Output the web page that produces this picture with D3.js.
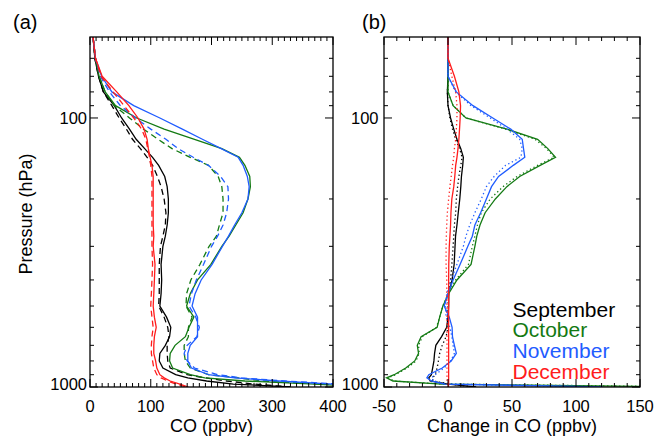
<!DOCTYPE html>
<html>
<head>
<meta charset="utf-8">
<script src="https://cdn.jsdelivr.net/npm/d3@7"></script>
<style>
  body { margin: 0; background: #fff; }
  svg { display: block; }
</style>
</head>
<body>
<svg id="chart" width="667" height="438"></svg>
<script>
// pressure levels (hPa), shared by every profile
var levels = [50, 60, 70, 80, 90, 100, 110, 120, 130, 140, 150, 165, 180, 200, 225, 250, 275, 300, 350, 400,
  450, 500, 550, 600, 650, 700, 750, 800, 850, 900, 925, 950, 975, 1000]

// (a) CO profiles (ppbv), solid and dashed
var coSep = [5, 8, 14, 22, 40, 52, 65, 76, 90, 103, 113, 123, 127, 129, 129, 127, 124, 120, 117, 118,
  117, 115, 126, 133, 131, 124, 115, 114, 120, 141, 161, 192, 236, 330]
var coSepDash = [5, 8, 14, 22, 36, 48, 60, 70, 83, 94, 103, 111, 117, 122, 125, 124, 120, 116, 114, 114,
  114, 113, 122, 128, 130, 127, 127, 128, 132, 160, 190, 225, 270, 330]
var coOct = [5, 9, 15, 25, 42, 77, 122, 172, 217, 246, 255, 263, 264, 260, 252, 240, 229, 217, 199, 177,
  165, 159, 171, 163, 157, 140, 132, 131, 136, 165, 189, 255, 370, 460]
var coOctDash = [5, 9, 15, 25, 40, 65, 88, 112, 135, 165, 195, 211, 217, 219, 219, 213, 208, 196, 181, 166,
  159, 158, 168, 162, 162, 155, 155, 157, 165, 195, 244, 285, 380, 460]
var coNov = [5, 9, 19, 36, 72, 115, 152, 185, 216, 244, 252, 259, 262, 260, 250, 238, 228, 218, 201, 183,
  173, 168, 177, 177, 177, 165, 161, 161, 167, 195, 238, 310, 400, 480]
var coNovDash = [5, 9, 17, 32, 50, 75, 100, 125, 145, 170, 195, 215, 227, 228, 225, 219, 210, 200, 187, 175,
  167, 163, 174, 180, 176, 160, 155, 160, 172, 210, 250, 320, 410, 480]
var coDec = [5, 9, 20, 44, 64, 79, 89, 94, 96, 99, 102, 104, 104, 104, 104, 104, 105, 104, 107, 106,
  105, 104, 106, 109, 106, 105, 105, 108, 110, 115, 122, 132, 148, 162]
var coDecDash = [5, 9, 18, 38, 56, 72, 85, 92, 95, 98, 100, 102, 102, 102, 102, 102, 102, 102, 103, 102,
  101, 100, 102, 104, 102, 101, 101, 103, 105, 110, 117, 128, 142, 158]

// (b) change in CO (ppbv), solid and dotted
var dSep = [0, 0, 0, -0.5, 0, 2, 4.5, 7, 10, 12, 11.5, 10.5, 10, 9.2, 8, 7, 5.9, 5.5, 4.8, 3.2,
  0.6, 0.5, 0, -1, -5, -9.5, -10.5, -11, -12, -13, -15, -14, 0, 22]
var dSepDot = [0, 0, 0, -0.5, 0, 1.5, 3.5, 6, 9, 11, 10, 8.5, 7.5, 6.5, 6, 5, 4.5, 4, 3, 2,
  0.5, 0, 0, 0, -1.5, -4.5, -6.5, -7.5, -8.5, -10, -12, -12, 2, 20]
var dOct = [0, 0, 0, 0, 4, 14, 46, 70, 78, 84, 72, 56, 46, 37, 29, 25, 22.5, 21, 18, 7,
  0.5, -4, -6.5, -8.5, -21, -24, -23, -26, -33, -42, -48, -43, -5, 200]
var dOctDot = [0, 0, 0, 0, 4, 14, 45, 68, 77, 83, 70, 54, 43, 33, 26, 23, 21, 19, 16, 6,
  0, -4, -6.5, -9, -20, -23, -22.5, -25, -32, -41, -47, -42, -4, 200]
var dNov = [0, 0, 0, 6.5, 19.5, 35, 49, 58, 59, 60, 51, 39.5, 34, 30, 25.5, 21, 19, 15.5, 9.5, 4,
  0, -3, 1, 3.2, 3.5, 5, 6.5, 2.5, -4.5, -15, -16.5, -13, -3, 121]
var dNovDot = [0, 0, 0, 6, 18, 33, 46, 56, 58, 57, 45, 36, 30, 26, 21, 17, 14, 12, 7, 2.5,
  -1, -2, -1.5, 1.5, 3, 4, 5, 2, -3, -10, -13, -11, -1, 121]
var dDec = [0, 0, 5, 8.5, 9.8, 9.5, 9, 8.5, 7.8, 7, 6, 5.3, 4.5, 3, 2.3, 2, 1.5, 1, 0.6, 0.5,
  0.5, 0.5, 0.5, 0.5, 0.5, 0.5, 0.5, 0.5, 0.5, 0.5, 0.5, 0.5, 0.5, 0.3]
var dDecDot = [0, 0, 3, 6, 7, 7, 6.5, 6, 5, 4.5, 3.5, 2.5, 1.5, 0.5, -0.5, -1, -1.3, -1.5, -1.5, -1,
  -1, -0.8, -0.8, -0.8, -0.8, -0.8, -0.8, -0.8, -0.8, -0.8, -0.8, -0.8, -0.5, -0.5]

var months = ['September', 'October', 'November', 'December']
var colors = ['#000000', '#137a13', '#1f5cff', '#ff1c1c']

var xTicksA = [0, 100, 200, 300, 400]
var xTicksB = [-50, 0, 50, 100, 150]
var pMajor = [100, 1000]
var pMinor = [60, 70, 80, 90, 200, 300, 400, 500, 600, 700, 800, 900]

var font = 'Liberation Sans, Arial, Helvetica, sans-serif'
var svg = d3.select('#chart')
var defs = svg.append('defs')

var y = d3.scaleLog().domain([50, 1000]).range([37, 387])
var xa = d3.scaleLinear().domain([0, 400]).range([90, 333])
var xb = d3.scaleLinear().domain([-50, 150]).range([384, 640])

function panel(id, x, majors, solids, others, dash, yLabelX, tag, tagX, xTitle) {
  var x0 = x.range()[0], x1 = x.range()[1],
    y0 = y.range()[0], y1 = y.range()[1]

  defs.append('clipPath').attr('id', 'clip-' + id)
    .append('rect')
    .attr('x', x0).attr('y', y0)
    .attr('width', x1 - x0).attr('height', y1 - y0)

  var g = svg.append('g')
  var plot = g.append('g').attr('clip-path', 'url(#clip-' + id + ')')

  var line = d3.line()
    .x(function(d) { return x(d[1]) })
    .y(function(d) { return y(d[0]) })

  for (var i = 0; i < 4; i++) {
    plot.append('path')
      .attr('d', line(d3.zip(levels, others[i])))
      .attr('fill', 'none')
      .attr('stroke', colors[i])
      .attr('stroke-width', 1.3)
      .attr('stroke-dasharray', dash)
    plot.append('path')
      .attr('d', line(d3.zip(levels, solids[i])))
      .attr('fill', 'none')
      .attr('stroke', colors[i])
      .attr('stroke-width', 1.3)
  }

  // x ticks, minor every 10, inward on top and bottom
  var dom = x.domain()
  var minor = d3.range(dom[0], dom[1] + 1, 10).filter(function(v) { return majors.indexOf(v) < 0 })
  var xt = g.append('g').attr('stroke', '#000').attr('stroke-width', 1)
  minor.concat(majors).forEach(function(v) {
    var len = majors.indexOf(v) >= 0 ? 8 : 4
    xt.append('line').attr('x1', x(v)).attr('x2', x(v)).attr('y1', y1).attr('y2', y1 - len)
    xt.append('line').attr('x1', x(v)).attr('x2', x(v)).attr('y1', y0).attr('y2', y0 + len)
  })
  pMinor.concat(pMajor).forEach(function(p) {
    var len = pMajor.indexOf(p) >= 0 ? 8 : 4
    xt.append('line').attr('x1', x0).attr('x2', x0 + len).attr('y1', y(p)).attr('y2', y(p))
    xt.append('line').attr('x1', x1).attr('x2', x1 - len).attr('y1', y(p)).attr('y2', y(p))
  })

  g.append('rect')
    .attr('x', x0).attr('y', y0)
    .attr('width', x1 - x0).attr('height', y1 - y0)
    .attr('fill', 'none')
    .attr('stroke', '#000')
    .attr('stroke-width', 1.3)

  g.append('g').selectAll('text')
    .data(majors)
    .enter().append('text')
    .attr('x', function(d) { return x(d) })
    .attr('y', 412)
    .attr('text-anchor', 'middle')
    .attr('font-family', font)
    .attr('font-size', 16.5)
    .text(function(d) { return d })

  g.append('g').selectAll('text')
    .data(pMajor)
    .enter().append('text')
    .attr('x', yLabelX)
    .attr('y', function(d) { return d == 1000 ? y(d) + 2.7 : y(d) + 6 })
    .attr('text-anchor', 'end')
    .attr('font-family', font)
    .attr('font-size', 16.5)
    .text(function(d) { return d })

  g.append('text')
    .attr('x', (x0 + x1) / 2)
    .attr('y', 432)
    .attr('text-anchor', 'middle')
    .attr('font-family', font)
    .attr('font-size', 18)
    .text(xTitle)

  g.append('text')
    .attr('x', tagX)
    .attr('y', 28.7)
    .attr('font-family', font)
    .attr('font-size', 20)
    .text(tag)
}

panel('a', xa, xTicksA,
  [coSep, coOct, coNov, coDec], [coSepDash, coOctDash, coNovDash, coDecDash],
  '6,4', 87, '(a)', 13, 'CO (ppbv)')

panel('b', xb, xTicksB,
  [dSep, dOct, dNov, dDec], [dSepDot, dOctDot, dNovDot, dDecDot],
  '1.3,2.7', 378.5, '(b)', 362, 'Change in CO (ppbv)')

svg.append('text')
  .attr('transform', 'translate(31.5,214) rotate(-90)')
  .attr('text-anchor', 'middle')
  .attr('font-family', font)
  .attr('font-size', 18)
  .text('Pressure (hPa)')

// legend, tight line spacing as in the original figure
svg.append('g').selectAll('text')
  .data(months)
  .enter().append('text')
  .attr('x', 512.5)
  .attr('y', function(d, i) { return 316.7 + i * 20.6 })
  .attr('font-family', font)
  .attr('font-size', 21)
  .attr('fill', function(d, i) { return colors[i] })
  .text(function(d) { return d })
</script>
</body>
</html>
